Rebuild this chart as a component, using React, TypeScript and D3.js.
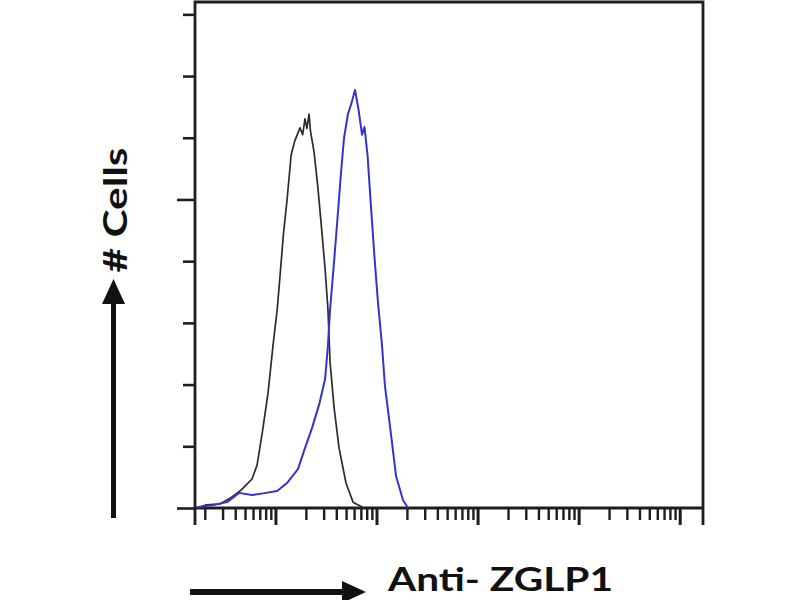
import { useEffect, useRef } from "react"
import * as d3 from "d3"

// isotype control (black) – fluorescence intensity vs. cell count
const controlIntensity = [
  1.72, 2.04, 2.83, 3.72, 4.57, 5.87, 6.58, 7.45, 8.45, 9.47, 10.4, 11.1, 12.0, 13.0, 14.3, 15.5, 17.5, 18.6,
  19.6, 20.5, 21.5, 22.2, 24.1, 26.2, 28.2, 31.0, 33.1, 34.7, 38.0, 42.6, 49.9, 58.6, 75.2,
]
const controlCount = [
  0, 1.0, 1.3, 3.6, 5.8, 9.4, 13.9, 24.9, 37.3, 52.8, 64.2, 75.2, 88.8, 99.5, 114.4, 118.9, 123.2, 121, 126.1,
  123, 127.7, 122.2, 115.4, 104.4, 93.0, 77.5, 64.2, 47.3, 32.7, 19.4, 8.1, 1.9, 0,
]

// Anti-ZGLP1 stained (blue)
const stainedIntensity = [
  1.72, 2.42, 3.32, 4.36, 5.87, 8.07, 10.4, 13.0, 16.7, 19.6, 23.0, 27.3, 31.0, 33.1, 34.7, 38.0, 40.7, 44.6,
  47.7, 52.2, 56.6, 61.3, 66.5, 71.9, 76.0, 81.5, 88.2, 95.8, 103.5, 113.3, 121.3, 137.8, 156.0, 182.8, 205.0,
]
const stainedCount = [
  0.3, 1.0, 1.9, 4.9, 4.2, 4.9, 5.5, 8.1, 12.6, 19.4, 25.9, 34.0, 41.8, 52.8, 64.2, 79.7, 92.1, 108.9, 119.9,
  127.7, 131.3, 135.5, 129.0, 121.0, 123.5, 114.4, 97.6, 80.7, 66.5, 52.8, 39.5, 25.0, 10.4, 2.6, 0,
]

const xDomain = [1.6, 170000]
const yDomain = [0, 164]
const yTickValues = [0, 20, 40, 60, 80, 100, 120, 140, 160]
const yMajorTicks = [0, 100]

const xLabel = "Anti- ZGLP1"
const yLabel = "# Cells"

export default function App() {
  const svgRef = useRef<SVGSVGElement>(null)

  useEffect(() => {
    document.body.style.margin = "0"
    const svg = d3.select(svgRef.current)
    svg.selectAll("*").remove()

    const left = 195
    const right = 703
    const top = 2
    const bottom = 508
    const axisColor = "#1e1e1e"

    const x = d3.scaleLog().domain(xDomain).range([left, right])
    const y = d3.scaleLinear().domain(yDomain).range([bottom, top])

    svg.append("rect").attr("width", 800).attr("height", 600).attr("fill", "#fff")

    // x ticks: minor (2..9) and major (decades)
    const allX = x.ticks()
    const majorX = allX.filter((d) => Math.abs(Math.log10(d) - Math.round(Math.log10(d))) < 1e-6)
    const minorX = allX.filter((d) => !majorX.includes(d))

    const xMinor = svg
      .append("g")
      .attr("transform", `translate(0,${bottom})`)
      .call(d3.axisBottom(x).tickValues(minorX).tickSize(12).tickFormat(() => ""))
    const xMajor = svg
      .append("g")
      .attr("transform", `translate(0,${bottom})`)
      .call(d3.axisBottom(x).tickValues(majorX).tickSize(17).tickFormat(() => ""))

    const yMinor = svg
      .append("g")
      .attr("transform", `translate(${left},0)`)
      .call(
        d3
          .axisLeft(y)
          .tickValues(yTickValues.filter((d) => !yMajorTicks.includes(d)))
          .tickSize(12)
          .tickFormat(() => "")
      )
    const yMajor = svg
      .append("g")
      .attr("transform", `translate(${left},0)`)
      .call(d3.axisLeft(y).tickValues(yMajorTicks).tickSize(18).tickFormat(() => ""))

    for (const g of [xMinor, xMajor, yMinor, yMajor]) {
      g.select(".domain").remove()
      g.selectAll("line").attr("stroke", axisColor)
    }
    xMinor.selectAll("line").attr("stroke-width", 2.4)
    xMajor.selectAll("line").attr("stroke-width", 3)
    yMinor.selectAll("line").attr("stroke-width", 2.6)
    yMajor.selectAll("line").attr("stroke-width", 2.6)

    // frame, with the corners running down like ticks
    svg
      .append("path")
      .attr("d", `M${left},${bottom + 17}V${top}H${right}V${bottom + 17}M${left},${bottom}H${right}`)
      .attr("fill", "none")
      .attr("stroke", axisColor)
      .attr("stroke-width", 2.8)

    const line = d3
      .line<[number, number]>()
      .x((d) => x(d[0]))
      .y((d) => y(d[1]))

    const control = controlIntensity.map((v, i) => [v, controlCount[i]] as [number, number])
    const stained = stainedIntensity.map((v, i) => [v, stainedCount[i]] as [number, number])

    svg
      .append("path")
      .datum(control)
      .attr("fill", "none")
      .attr("stroke", "#2b2b2b")
      .attr("stroke-width", 1.7)
      .attr("stroke-linejoin", "round")
      .attr("d", line)

    svg
      .append("path")
      .datum(stained)
      .attr("fill", "none")
      .attr("stroke", "#3434cc")
      .attr("stroke-width", 2)
      .attr("stroke-linejoin", "round")
      .attr("d", line)

    // y label and arrow
    svg
      .append("text")
      .attr("transform", "translate(127,210) rotate(-90)")
      .attr("text-anchor", "middle")
      .attr("font-family", "Lato, 'Open Sans', sans-serif")
      .attr("font-weight", "bold")
      .attr("font-size", 32)
      .attr("textLength", 125)
      .attr("lengthAdjust", "spacingAndGlyphs")
      .attr("fill", "#111")
      .text(yLabel)

    svg
      .append("line")
      .attr("x1", 113.5)
      .attr("x2", 113.5)
      .attr("y1", 518)
      .attr("y2", 300)
      .attr("stroke", "#111")
      .attr("stroke-width", 5)
    svg.append("path").attr("d", "M113.5,279L102,304H125Z").attr("fill", "#111")

    // x label and arrow
    svg
      .append("text")
      .attr("x", 388)
      .attr("y", 591)
      .attr("font-family", "Lato, 'Open Sans', sans-serif")
      .attr("font-weight", "bold")
      .attr("font-size", 32)
      .attr("textLength", 225)
      .attr("lengthAdjust", "spacingAndGlyphs")
      .attr("fill", "#111")
      .text(xLabel)

    svg
      .append("line")
      .attr("x1", 190)
      .attr("x2", 346)
      .attr("y1", 592)
      .attr("y2", 592)
      .attr("stroke", "#111")
      .attr("stroke-width", 6)
    svg.append("path").attr("d", "M366,592L342,581V603Z").attr("fill", "#111")
  }, [])

  return <svg ref={svgRef} width={800} height={600} style={{ display: "block" }} />
}
